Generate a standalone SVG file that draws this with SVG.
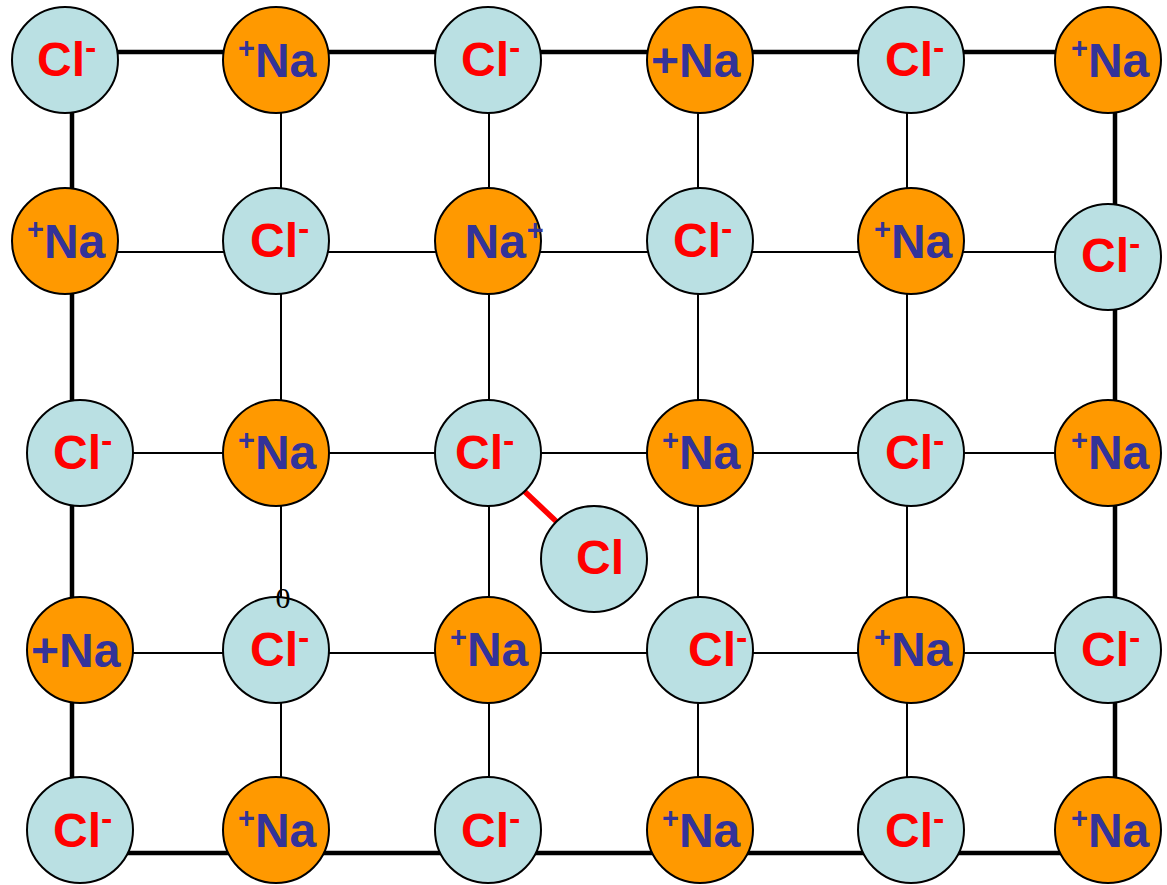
<svg xmlns="http://www.w3.org/2000/svg" width="1167" height="885" viewBox="0 0 1167 885">
<style>
.cl{fill:#BAE0E3;stroke:#000;stroke-width:2}
.na{fill:#FF9900;stroke:#000;stroke-width:2}
.t{font-family:"Liberation Sans",Arial,sans-serif;font-weight:bold;font-size:48px}
.tc{fill:#FF0000}
.tn{fill:#333399}
.sup{font-size:29px}
.neg{font-size:34px}
.thin{stroke:#000;stroke-width:2;fill:none}
.thick{stroke:#000;stroke-width:4.5;fill:none}
</style>
<rect width="1167" height="885" fill="#fff"/>
<g id="connectors">
<line class="thin" x1="72" y1="252" x2="1115" y2="252"/>
<line class="thin" x1="72" y1="453" x2="1115" y2="453"/>
<line class="thin" x1="72" y1="653" x2="1115" y2="653"/>
<line class="thin" x1="281" y1="52" x2="281" y2="853"/>
<line class="thin" x1="489" y1="52" x2="489" y2="853"/>
<line class="thin" x1="698" y1="52" x2="698" y2="853"/>
<line class="thin" x1="907" y1="52" x2="907" y2="853"/>
<line class="thick" x1="70" y1="52" x2="1117" y2="52"/>
<line class="thick" x1="70" y1="853" x2="1117" y2="853"/>
<line class="thick" x1="72" y1="52" x2="72" y2="853"/>
<line class="thick" x1="1115" y1="52" x2="1115" y2="853"/>
<line x1="522" y1="489" x2="559" y2="524" stroke="#FF0000" stroke-width="5.5"/>
</g>
<g id="r1c1"><circle class="cl" cx="65" cy="60" r="53"/><text class="t tc" x="37" y="76">Cl<tspan class="neg" dy="-17">-</tspan></text></g>
<g id="r1c2"><circle class="na" cx="276" cy="60" r="53"/><text class="t tn" x="238" y="77"><tspan class="sup" dy="-19">+</tspan><tspan dy="19">Na</tspan></text></g>
<g id="r1c3"><circle class="cl" cx="488" cy="60" r="53"/><text class="t tc" x="461" y="76">Cl<tspan class="neg" dy="-17">-</tspan></text></g>
<g id="r1c4"><circle class="na" cx="700" cy="60" r="53"/><text class="t tn" x="651" y="77">+Na</text></g>
<g id="r1c5"><circle class="cl" cx="911" cy="60" r="53"/><text class="t tc" x="885" y="76">Cl<tspan class="neg" dy="-17">-</tspan></text></g>
<g id="r1c6"><circle class="na" cx="1108" cy="60" r="53"/><text class="t tn" x="1071" y="77"><tspan class="sup" dy="-19">+</tspan><tspan dy="19">Na</tspan></text></g>

<g id="r2c1"><circle class="na" cx="65" cy="241" r="53"/><text class="t tn" x="27" y="258"><tspan class="sup" dy="-19">+</tspan><tspan dy="19">Na</tspan></text></g>
<g id="r2c2"><circle class="cl" cx="276" cy="241" r="53"/><text class="t tc" x="250" y="257">Cl<tspan class="neg" dy="-17">-</tspan></text></g>
<g id="r2c3"><circle class="na" cx="488" cy="241" r="53"/><text class="t tn" x="464.5" y="258">Na<tspan class="sup" dx="1" dy="-18">+</tspan></text></g>
<g id="r2c4"><circle class="cl" cx="700" cy="241" r="53"/><text class="t tc" x="673" y="257">Cl<tspan class="neg" dy="-17">-</tspan></text></g>
<g id="r2c5"><circle class="na" cx="911" cy="241" r="53"/><text class="t tn" x="874" y="258"><tspan class="sup" dy="-19">+</tspan><tspan dy="19">Na</tspan></text></g>
<g id="r2c6"><circle class="cl" cx="1108" cy="257" r="53"/><text class="t tc" x="1081" y="272">Cl<tspan class="neg" dy="-17">-</tspan></text></g>

<g id="r3c1"><circle class="cl" cx="80" cy="453" r="53"/><text class="t tc" x="53" y="469">Cl<tspan class="neg" dy="-17">-</tspan></text></g>
<g id="r3c2"><circle class="na" cx="276" cy="453" r="53"/><text class="t tn" x="238" y="469"><tspan class="sup" dy="-19">+</tspan><tspan dy="19">Na</tspan></text></g>
<g id="r3c3"><circle class="cl" cx="488" cy="453" r="53"/><text class="t tc" x="455" y="469">Cl<tspan class="neg" dy="-17">-</tspan></text></g>
<g id="r3c4"><circle class="na" cx="700" cy="453" r="53"/><text class="t tn" x="662" y="469"><tspan class="sup" dy="-19">+</tspan><tspan dy="19">Na</tspan></text></g>
<g id="r3c5"><circle class="cl" cx="911" cy="453" r="53"/><text class="t tc" x="885" y="469">Cl<tspan class="neg" dy="-17">-</tspan></text></g>
<g id="r3c6"><circle class="na" cx="1108" cy="453" r="53"/><text class="t tn" x="1071" y="469"><tspan class="sup" dy="-19">+</tspan><tspan dy="19">Na</tspan></text></g>

<g id="cl-atom"><circle class="cl" cx="594" cy="559" r="53"/><text class="t tc" x="576" y="574">Cl</text></g>

<g id="r4c1"><circle class="na" cx="80" cy="650" r="53"/><text class="t tn" x="31" y="667">+Na</text></g>
<g id="r4c2"><circle class="cl" cx="276" cy="650" r="53"/><text class="t tc" x="250" y="666">Cl<tspan class="neg" dy="-17">-</tspan></text></g>
<g id="r4c3"><circle class="na" cx="488" cy="650" r="53"/><text class="t tn" x="450" y="666"><tspan class="sup" dy="-19">+</tspan><tspan dy="19">Na</tspan></text></g>
<g id="r4c4"><circle class="cl" cx="700" cy="650" r="53"/><text class="t tc" x="688" y="666">Cl<tspan class="neg" dy="-17">-</tspan></text></g>
<g id="r4c5"><circle class="na" cx="911" cy="650" r="53"/><text class="t tn" x="874" y="666"><tspan class="sup" dy="-19">+</tspan><tspan dy="19">Na</tspan></text></g>
<g id="r4c6"><circle class="cl" cx="1108" cy="650" r="53"/><text class="t tc" x="1081" y="666">Cl<tspan class="neg" dy="-17">-</tspan></text></g>

<g id="r5c1"><circle class="cl" cx="80" cy="830" r="53"/><text class="t tc" x="53" y="847">Cl<tspan class="neg" dy="-17">-</tspan></text></g>
<g id="r5c2"><circle class="na" cx="276" cy="830" r="53"/><text class="t tn" x="238" y="847"><tspan class="sup" dy="-19">+</tspan><tspan dy="19">Na</tspan></text></g>
<g id="r5c3"><circle class="cl" cx="488" cy="830" r="53"/><text class="t tc" x="461" y="847">Cl<tspan class="neg" dy="-17">-</tspan></text></g>
<g id="r5c4"><circle class="na" cx="700" cy="830" r="53"/><text class="t tn" x="662" y="847"><tspan class="sup" dy="-19">+</tspan><tspan dy="19">Na</tspan></text></g>
<g id="r5c5"><circle class="cl" cx="911" cy="830" r="53"/><text class="t tc" x="885" y="847">Cl<tspan class="neg" dy="-17">-</tspan></text></g>
<g id="r5c6"><circle class="na" cx="1108" cy="830" r="53"/><text class="t tn" x="1071" y="847"><tspan class="sup" dy="-19">+</tspan><tspan dy="19">Na</tspan></text></g>

<text x="283" y="608" text-anchor="middle" font-family="Liberation Serif,serif" font-size="30" fill="#000">0</text>
</svg>
